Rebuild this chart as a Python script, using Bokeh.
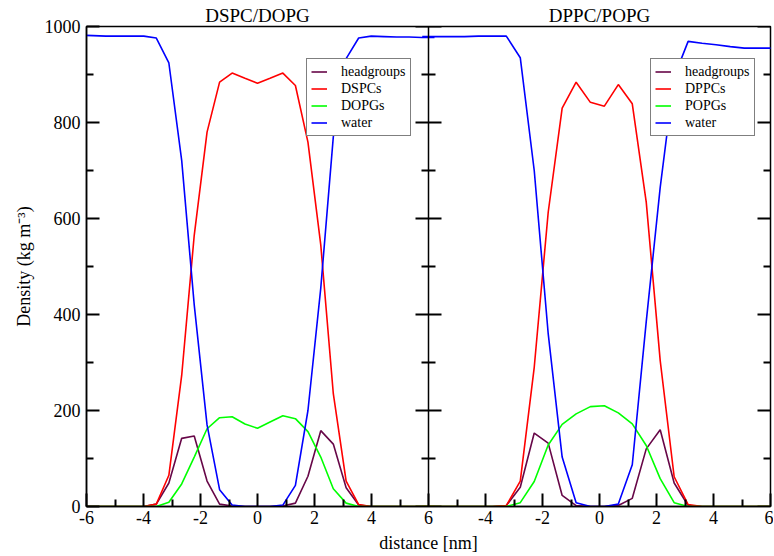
from bokeh.plotting import figure
from bokeh.models import (Range1d, FixedTicker, Span, Legend, LegendItem,
                          ColumnDataSource, LinearAxis)
from bokeh.transform import dodge
from bokeh.embed import file_html
from bokeh.resources import INLINE
import math

# ---------------- data ----------------
panel_titles = ["DSPC/DOPG", "DPPC/POPG"]

# left panel : DSPC/DOPG
x_left = [-6.21, -5.77, -5.32, -4.88, -4.44, -3.99, -3.55, -3.11, -2.66, -2.22,
          -1.77, -1.33, -0.89, -0.44, 0.00, 0.44, 0.89, 1.33, 1.77, 2.22,
          2.66, 3.11, 3.55, 3.99, 4.44, 4.88, 5.32, 5.77, 6.21]
head_left = [0, 0, 0, 0, 0, 0, 5, 49, 142, 147,
             53, 5, 1, 0, 0, 0, 1, 7, 63, 158,
             130, 39, 3, 0, 0, 0, 0, 0, 0]
lipid1_left = [0, 0, 0, 0, 0, 0, 5, 65, 273, 565,
               780, 884, 903, 892, 882, 892, 903, 877, 759, 545,
               235, 53, 4, 0, 0, 0, 0, 0, 0]
lipid2_left = [0, 0, 0, 0, 0, 0, 0, 9, 47, 103,
               162, 185, 187, 172, 163, 176, 189, 183, 156, 103,
               37, 7, 0, 0, 0, 0, 0, 0, 0]
water_left = [982, 981, 980, 980, 980, 980, 976, 924, 721, 420,
              170, 35, 3, 0, 0, 0, 3, 44, 200, 455,
              770, 933, 976, 980, 979, 978, 978, 977, 977]
labels_left = ["headgroups", "DSPCs", "DOPGs", "water"]

# right panel : DPPC/POPG
x_right = [-6.22, -5.73, -5.23, -4.74, -4.25, -3.76, -3.27, -2.78, -2.29, -1.80,
           -1.31, -0.82, -0.32, 0.17, 0.66, 1.15, 1.64, 2.13, 2.62, 3.11,
           3.60, 4.09, 4.59, 5.08, 5.57, 6.06]
head_right = [0, 0, 0, 0, 0, 0, 2, 40, 153, 132,
              23, 2, 0, 0, 2, 17, 120, 160, 49, 2,
              0, 0, 0, 0, 0, 0]
lipid1_right = [0, 0, 0, 0, 0, 0, 2, 53, 290, 613,
                830, 884, 842, 834, 879, 839, 634, 304, 62, 4,
                0, 0, 0, 0, 0, 0]
lipid2_right = [0, 0, 0, 0, 0, 0, 0, 8, 52, 128,
                171, 193, 208, 210, 195, 172, 127, 58, 8, 0,
                0, 0, 0, 0, 0, 0]
water_right = [979, 979, 979, 979, 980, 980, 980, 935, 700, 360,
               103, 8, 0, 0, 5, 87, 385, 665, 895, 969,
               965, 962, 958, 955, 955, 955]
labels_right = ["headgroups", "DPPCs", "POPGs", "water"]

x_ticks = [-6, -4, -2, 0, 2, 4, 6]
x_minor = [-5, -3, -1, 1, 3, 5]
y_ticks = [0, 200, 400, 600, 800, 1000]
y_minor = [100, 300, 500, 700, 900]

colors = ["#670748", "#ff0000", "#00ff00", "#0000ff"]
SERIF = "Liberation Serif"

# ---------------- figure ----------------
SHIFT = x_ticks[-1] - x_ticks[0]          # second panel placed one panel-width right
XMIN, XMAX = x_ticks[0], x_ticks[-1] + SHIFT
centers = [(x_ticks[0] + x_ticks[-1]) / 2, (x_ticks[0] + x_ticks[-1]) / 2 + SHIFT]

p = figure(frame_width=684, frame_height=480,
           x_range=Range1d(XMIN, XMAX), y_range=Range1d(0, 1000),
           output_backend="svg", toolbar_location=None,
           min_border_left=86, min_border_right=3,
           min_border_top=26, min_border_bottom=48)
p.xgrid.visible = False
p.ygrid.visible = False
p.outline_line_color = "black"
p.outline_line_width = 1.5
p.background_fill_alpha = 0
p.border_fill_color = "white"

# x axis: both panels
all_xt = x_ticks + [t + SHIFT for t in x_ticks[1:]]
all_xm = x_minor + [t + SHIFT for t in x_minor]
overrides = {t: str(t) for t in x_ticks}
for t in x_ticks[1:]:
    overrides[t + SHIFT] = str(t)
xa = p.xaxis[0]
xa.ticker = FixedTicker(ticks=all_xt, minor_ticks=all_xm)
xa.major_label_overrides = overrides
xa.axis_label = "distance [nm]"

ya = p.yaxis[0]
ya.ticker = FixedTicker(ticks=y_ticks, minor_ticks=y_minor)
ya.axis_label = "Density (kg m\u207b\u00b3)"

TW = 2
for ax in (xa, ya):
    ax.major_tick_in = 13
    ax.major_tick_out = 0
    ax.minor_tick_in = 7
    ax.minor_tick_out = 0
    ax.major_tick_line_color = "black"
    ax.minor_tick_line_color = "black"
    ax.major_tick_line_width = TW
    ax.minor_tick_line_width = TW
    ax.axis_line_color = "black"
    ax.axis_line_width = 1.5
    ax.major_label_text_font = SERIF
    ax.major_label_text_font_size = "18px"
    ax.major_label_text_color = "black"
    ax.axis_label_text_font = SERIF
    ax.axis_label_text_font_size = "18px"
    ax.axis_label_text_font_style = "normal"
    ax.axis_label_text_color = "black"
xa.major_label_standoff = 4
xa.axis_label_standoff = 6
ya.major_label_standoff = 6
ya.axis_label_standoff = 8

# panel titles: an axis above the frame, labelled at each panel centre
ta = LinearAxis(ticker=FixedTicker(ticks=centers, minor_ticks=[]),
                major_label_overrides={c: t for c, t in zip(centers, panel_titles)},
                axis_line_color=None, major_tick_line_color=None,
                minor_tick_line_color=None,
                major_tick_in=0, major_tick_out=0, minor_tick_in=0, minor_tick_out=0,
                major_label_standoff=1,
                major_label_text_font=SERIF, major_label_text_font_size="19px",
                major_label_text_color="black")
p.add_layout(ta, "above")

# divider between panels
p.add_layout(Span(location=x_ticks[-1], dimension="height",
                  line_color="black", line_width=1.5))

# inward y ticks on both sides of the divider and on the right edge
tick_src = ColumnDataSource(dict(y=y_ticks))
minor_src = ColumnDataSource(dict(y=y_minor))
for xe, ang in ((x_ticks[-1], 0.0), (x_ticks[-1], math.pi), (XMAX, math.pi)):
    p.ray(x=xe, y="y", source=tick_src, length=13, length_units="screen",
          angle=ang, line_color="black", line_width=TW)
    p.ray(x=xe, y="y", source=minor_src, length=7, length_units="screen",
          angle=ang, line_color="black", line_width=TW)

# ---------------- curves ----------------
src_l = ColumnDataSource(dict(x=x_left, a=head_left, b=lipid1_left,
                              c=lipid2_left, d=water_left))
src_r = ColumnDataSource(dict(x=x_right, a=head_right, b=lipid1_right,
                              c=lipid2_right, d=water_right))

LW = 1.6
rl, rr = [], []
for col, c in zip(["a", "b", "c", "d"], colors):
    rl.append(p.line(x="x", y=col, source=src_l, line_color=c, line_width=LW))
for col, c in zip(["a", "b", "c", "d"], colors):
    rr.append(p.line(x=dodge("x", SHIFT, range=p.x_range), y=col, source=src_r,
                     line_color=c, line_width=LW))

# ---------------- legends ----------------
def make_legend(renderers, labels, loc):
    return Legend(items=[LegendItem(label=l, renderers=[r]) for l, r in zip(labels, renderers)],
                  location=loc, orientation="vertical",
                  label_text_font=SERIF, label_text_font_size="14px",
                  label_text_color="black",
                  glyph_width=16, glyph_height=17, label_height=17,
                  label_standoff=14, spacing=0, padding=4, margin=0,
                  border_line_color="black", border_line_width=1,
                  background_fill_color="white", background_fill_alpha=1)

p.add_layout(make_legend(rl, labels_left, (220, 370)), "center")
p.add_layout(make_legend(rr, labels_right, (564, 370)), "center")

open("out.html", "w").write(file_html(p, INLINE))
